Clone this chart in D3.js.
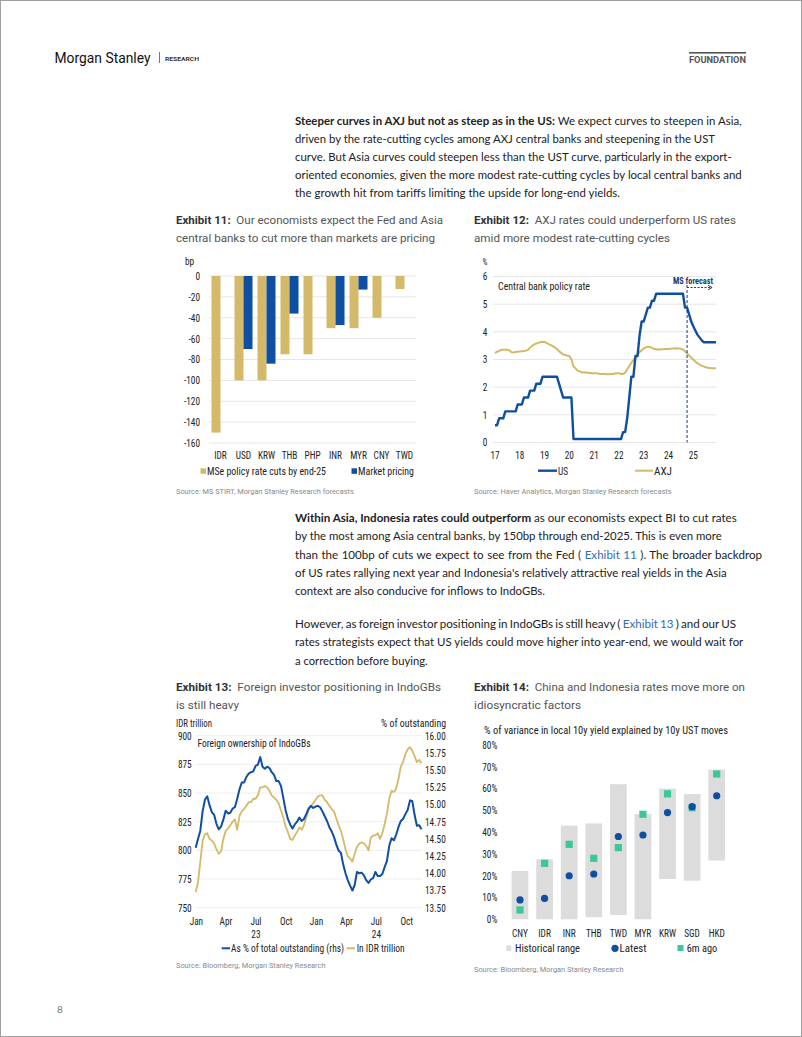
<!DOCTYPE html>
<html><head><meta charset="utf-8">
<script src="https://cdn.jsdelivr.net/npm/d3@7"></script>
<style>
html,body{margin:0;padding:0;background:#fff;}
svg{display:block;}
</style></head><body>
<svg id="page" width="802" height="1037"></svg>
<script>
// ---------------- DATA ----------------
// Exhibit 11
const cats11 = ["IDR","USD","KRW","THB","PHP","INR","MYR","CNY","TWD"];
const msCuts = [-150,-100,-100,-75,-75,-50,-50,-40,-12.5];
const mktPricing = [null,-70,-84,-36,null,-47,-13,null,null];
const ticks11 = [-160,-140,-120,-100,-80,-60,-40,-20,0];

// Exhibit 12 (monthly, Jan 2017 - Dec 2025)
const usRate = [
 0.625,0.625,0.875,0.875,0.875,1.125,1.125,1.125,1.125,1.125,1.125,1.375,
 1.375,1.375,1.625,1.625,1.625,1.875,1.875,1.875,2.125,2.125,2.125,2.375,
 2.375,2.375,2.375,2.375,2.375,2.375,2.375,2.125,1.875,1.625,1.625,1.625,
 1.625,1.625,0.125,0.125,0.125,0.125,0.125,0.125,0.125,0.125,0.125,0.125,
 0.125,0.125,0.125,0.125,0.125,0.125,0.125,0.125,0.125,0.125,0.125,0.125,
 0.125,0.125,0.375,0.375,0.875,1.625,2.375,2.375,3.125,3.125,3.875,4.375,
 4.375,4.625,4.875,4.875,5.125,5.125,5.375,5.375,5.375,5.375,5.375,5.375,
 5.375,5.375,5.375,5.375,5.375,5.375,5.375,5.375,4.875,4.875,4.625,4.375,
 4.2,4.05,3.9,3.8,3.7,3.625,3.625,3.625,3.625,3.625,3.625,3.625];
const axjRate = [
 3.23,3.28,3.31,3.35,3.35,3.35,3.35,3.33,3.26,3.25,3.27,3.28,
 3.29,3.30,3.31,3.32,3.35,3.43,3.50,3.55,3.58,3.60,3.63,3.64,
 3.63,3.60,3.56,3.52,3.48,3.43,3.38,3.30,3.24,3.18,3.16,3.14,
 3.12,3.00,2.75,2.68,2.60,2.57,2.54,2.53,2.53,2.52,2.51,2.50,
 2.50,2.50,2.49,2.48,2.48,2.48,2.47,2.47,2.48,2.48,2.49,2.50,
 2.50,2.48,2.48,2.52,2.65,2.76,2.88,2.98,3.08,3.18,3.27,3.33,
 3.40,3.44,3.46,3.46,3.42,3.39,3.36,3.37,3.36,3.37,3.38,3.38,
 3.38,3.39,3.40,3.40,3.41,3.40,3.39,3.36,3.30,3.22,3.14,3.06,
 3.00,2.93,2.87,2.82,2.78,2.75,2.72,2.70,2.69,2.68,2.68,2.68];
const yearTicks12 = [2017,2018,2019,2020,2021,2022,2023,2024,2025];
const forecastStart = 2024.75;

// Exhibit 13 (weekly from 2 Jan 2023)
const idPct = [
 14.37,14.50,14.62,14.90,15.07,15.12,14.99,14.89,14.85,14.72,14.64,14.68,14.78,14.91,14.87,14.88,
 14.94,14.96,15.08,15.22,15.32,15.32,15.40,15.45,15.47,15.48,15.56,15.58,15.69,15.55,15.52,15.55,
 15.53,15.47,15.43,15.34,15.34,15.27,15.10,14.92,14.79,14.71,14.65,14.71,14.75,14.81,14.76,14.79,
 14.86,14.94,14.98,14.95,14.97,14.98,14.96,14.90,14.83,14.76,14.67,14.61,14.53,14.42,14.33,14.30,
 14.13,14.00,13.90,13.82,13.75,13.83,14.02,14.00,14.01,13.97,13.90,13.86,13.91,13.93,14.02,13.96,
 13.96,13.99,14.09,14.18,14.40,14.51,14.48,14.56,14.67,14.76,14.79,14.86,14.92,15.06,15.05,14.85,
 14.69,14.70,14.64];
const idIdr = [
 763.6,772,790,808.6,814,815,810,808.6,806,801,797,799,810,817,819,822,
 825,827,818,830,834,836,839,842,842,845,845,848,855,855,856,855,
 852,848,846,844,841,835,829,821,816,810,809,813,816,820,818,822,
 829,835,838,841,844,847,848,848,844,842,839,836,834,828,822,817,
 810,801,795,793,790,797,803,806,807,806,804,800,811,813,813,815,
 810,815,823,832,845,852,851,854,862,873,877,884,888,890,887,882,
 877,879,876];
const idrTicks = [750,775,800,825,850,875,900];
const pctTicks = [13.5,13.75,14,14.25,14.5,14.75,15,15.25,15.5,15.75,16];

// Exhibit 14
const cats14 = ["CNY","IDR","INR","THB","TWD","MYR","KRW","SGD","HKD"];
const rangeLow = [0,0,0,0.01,0.02,0,0.185,0.177,0.27];
const rangeHigh = [0.222,0.275,0.43,0.44,0.62,0.483,0.60,0.575,0.687];
const latest = [0.089,0.096,0.20,0.208,0.38,0.387,0.49,0.517,0.567];
const sixMonthsAgo = [0.043,0.257,0.344,0.28,0.329,0.482,0.576,0.512,0.667];
const ticks14 = [0,0.1,0.2,0.3,0.4,0.5,0.6,0.7,0.8];

// ---------------- STYLE ----------------
const GOLD = "#d3b968", BLUE = "#0f4fa3", TEAL = "#3cc79b", RANGE = "#dcdcdc", GRID = "#e6e6e6";
const F_BODY = "Lato, 'Noto Sans', sans-serif";
const F_TITLE = "Roboto, 'Noto Sans', sans-serif";
const F_COND = "'Roboto Condensed','Liberation Sans Narrow','Arial Narrow',Roboto,sans-serif";
const CS = 10.8; // condensed label size

const svg = d3.select("#page");
svg.append("rect").attr("x",0.5).attr("y",0.5).attr("width",801).attr("height",1036)
  .attr("fill","#fff").attr("stroke","#a0a0a0");

function txt(g, x, y, s, o={}) {
  const fam = o.family || F_COND;
  const t = g.append("text").attr("x",x).attr("y",y)
    .attr("font-family", fam).attr("font-size", o.size || CS)
    .attr("fill", o.fill || "#222").attr("text-anchor", o.anchor || "start")
    .attr("font-weight", o.weight || "normal").text(s);
  if (fam === F_COND) t.classed("cond", true);
  if (o.len) t.attr("textLength", o.len).attr("lengthAdjust", o.adj || "spacingAndGlyphs");
  return t;
}
function styleCond(sel, anchor) {
  sel.attr("font-family",F_COND).attr("font-size",CS).attr("fill","#222").classed("cond",true);
  if (anchor) sel.attr("text-anchor", anchor);
  return sel;
}
// a line made of separately placed pieces, scaled together to a target width
function richLine(x, y, parts, opts) {
  if (opts.ws != null) {
    // single text with tspans, width tuned by word spacing only
    const t = svg.append("text").attr("x",x).attr("y",y)
      .attr("font-family", opts.family).attr("font-size", opts.size)
      .attr("fill", opts.fill || "#222").attr("word-spacing", opts.ws);
    parts.forEach(p => t.append("tspan").attr("font-weight", p.b ? "bold" : "normal")
      .attr("fill", p.link ? "#2f6db6" : (p.fill || null)).text(p.t));
    return;
  }
  const els = parts.map(p => svg.append("text").attr("x",x).attr("y",y)
    .attr("font-family", opts.family).attr("font-size", opts.size)
    .attr("font-weight", p.b ? "bold" : "normal")
    .attr("fill", p.link ? "#2f6db6" : (p.fill || opts.fill || "#222"))
    .attr("xml:space","preserve").style("white-space","pre").text(p.t));
  const widths = els.map(e => e.node().getComputedTextLength());
  const total = d3.sum(widths);
  const k = opts.len ? opts.len / total : 1;
  let cx = x;
  els.forEach((e,i) => {
    const w = widths[i] * k;
    e.attr("x", cx);
    if (opts.len) e.attr("textLength", w.toFixed(2)).attr("lengthAdjust","spacingAndGlyphs");
    cx += w;
  });
}

// ---------------- HEADER ----------------
txt(svg, 54.5, 62.5, "Morgan Stanley", {family:F_TITLE, size:15.5, fill:"#111", len:96});
svg.append("line").attr("x1",159.5).attr("x2",159.5).attr("y1",52).attr("y2",63).attr("stroke","#777");
txt(svg, 165, 60.5, "RESEARCH", {family:F_TITLE, size:6, weight:"bold", fill:"#333", len:34});
svg.append("rect").attr("x",689).attr("y",52).attr("width",57).attr("height",1.6).attr("fill","#555");
txt(svg, 689, 62.5, "FOUNDATION", {family:F_TITLE, size:9.5, weight:"bold", fill:"#555", len:57});
txt(svg, 57, 1013, "8", {family:F_BODY, size:10, fill:"#777"});

// ---------------- BODY TEXT ----------------
const BODY = {family:F_BODY, size:11.6, fill:"#222"};
const p1 = [
  [[{t:"Steeper curves in AXJ but not as steep as in the US:",b:true},{t:" We expect curves to steepen in Asia,"}],446.7],
  [[{t:"driven by the rate-cutting cycles among AXJ central banks and steepening in the UST"}],420],
  [[{t:"curve. But Asia curves could steepen less than the UST curve, particularly in the export-"}],436.7],
  [[{t:"oriented economies, given the more modest rate-cutting cycles by local central banks and"}],446.7],
  [[{t:"the growth hit from tariffs limiting the upside for long-end yields."}],325]
];
p1.forEach((l,i) => richLine(295, 125 + i*18.1, l[0], Object.assign({len:l[1]}, BODY)));
const p2 = [
  [[{t:"Within Asia, Indonesia rates could outperform",b:true},{t:" as our economists expect BI to cut rates"}],441.7],
  [[{t:"by the most among Asia central banks, by 150bp through end-2025. This is even more"}],426.7],
  [[{t:"than the 100bp of cuts we expect to see from the Fed ( "},{t:"Exhibit 11",link:true},{t:" ). The broader backdrop"}],null,0.55],
  [[{t:"of US rates rallying next year and Indonesia's relatively attractive real yields in the Asia"}],431.7],
  [[{t:"context are also conducive for inflows to IndoGBs."}],250]
];
p2.forEach((l,i) => richLine(295, 521.8 + i*18.35, l[0], Object.assign({len:l[1], ws:l[2]}, BODY)));
const p3 = [
  [[{t:"However, as foreign investor positioning in IndoGBs is still heavy ( "},{t:"Exhibit 13",link:true},{t:" ) and our US"}],null,-0.75],
  [[{t:"rates strategists expect that US yields could move higher into year-end, we would wait for"}],448.3],
  [[{t:"a correction before buying."}],132.7]
];
p3.forEach((l,i) => richLine(295, 627.8 + i*18.35, l[0], Object.assign({len:l[1], ws:l[2]}, BODY)));

// ---------------- EXHIBIT TITLES / SOURCES ----------------
const TITLE = {family:F_TITLE, size:11.8, fill:"#555"};
function exTitle(x, y, num, l1, l2, w1, w2) {
  richLine(x, y, [{t:num, b:true, fill:"#333"},{t:"  " + l1}], Object.assign({len:w1}, TITLE));
  richLine(x, y + 18.3, [{t:l2}], Object.assign({len:w2}, TITLE));
}
exTitle(176, 224, "Exhibit 11:", "Our economists expect the Fed and Asia", "central banks to cut more than markets are pricing", 267, 259);
exTitle(474, 224, "Exhibit 12:", "AXJ rates could underperform US rates", "amid more modest rate-cutting cycles", 262, 196);
exTitle(176, 691, "Exhibit 13:", "Foreign investor positioning in IndoGBs", "is still heavy", 265, 63);
exTitle(474, 691, "Exhibit 14:", "China and Indonesia rates move more on", "idiosyncratic factors", 271, 107);

const SRC = {family:F_TITLE, size:7.4, fill:"#8a8a8a"};
txt(svg, 176, 494, "Source: MS STIRT, Morgan Stanley Research forecasts", SRC);
txt(svg, 474, 494, "Source: Haver Analytics, Morgan Stanley Research forecasts", SRC);
txt(svg, 176, 968, "Source: Bloomberg, Morgan Stanley Research", SRC);
txt(svg, 474, 972, "Source: Bloomberg, Morgan Stanley Research", SRC);

// ---------------- EXHIBIT 11 ----------------
{
  const g = svg.append("g");
  const x = d3.scaleBand().domain(cats11).range([209,416]).padding(0);
  const bw = x.bandwidth();
  const sub = d3.scaleBand().domain(["ms","mkt"]).range([bw/2 - 9, bw/2 + 9]);
  const y = d3.scaleLinear().domain([-160,0]).range([443,276]);
  g.selectAll(".gr").data(ticks11).join("line")
    .attr("x1",209).attr("x2",416).attr("y1",d=>y(d)).attr("y2",d=>y(d))
    .attr("stroke",GRID).attr("stroke-width",1);
  const rows = cats11.map((c,i)=>({c, ms:msCuts[i], mkt:mktPricing[i]}));
  g.selectAll(".ms").data(rows).join("rect")
    .attr("x",d=>x(d.c)+sub("ms")).attr("width",sub.bandwidth())
    .attr("y",y(0)).attr("height",d=>y(d.ms)-y(0)).attr("fill",GOLD);
  g.selectAll(".mk").data(rows.filter(d=>d.mkt!=null)).join("rect")
    .attr("x",d=>x(d.c)+sub("mkt")).attr("width",sub.bandwidth())
    .attr("y",y(0)).attr("height",d=>y(d.mkt)-y(0)).attr("fill",BLUE);
  const ya = g.append("g").attr("transform","translate(209,0)")
    .call(d3.axisLeft(y).tickValues(ticks11).tickFormat(d=>String(d)).tickSize(0).tickPadding(9));
  ya.select(".domain").remove();
  styleCond(ya.selectAll("text"));
  const xa = g.append("g").attr("transform","translate(0,443)")
    .call(d3.axisBottom(x).tickSize(0).tickPadding(8));
  xa.select(".domain").remove();
  styleCond(xa.selectAll("text"));
  txt(g, 185, 265, "bp");
  g.append("rect").attr("x",200.5).attr("y",468.3).attr("width",5.5).attr("height",5.5).attr("fill",GOLD);
  txt(g, 207, 475, "MSe policy rate cuts by end-25", {len:119});
  g.append("rect").attr("x",351.5).attr("y",468.3).attr("width",5.5).attr("height",5.5).attr("fill",BLUE);
  txt(g, 358, 475, "Market pricing", {len:56});
}

// ---------------- EXHIBIT 12 ----------------
{
  const g = svg.append("g");
  const months = usRate.map((_,i)=>2017 + i/12);
  const x = d3.scaleLinear().domain([2017, 2017 + 107/12]).range([495,716]);
  const y = d3.scaleLinear().domain([0,6]).range([442.5,276.5]);
  const yt = [0,1,2,3,4,5,6];
  g.selectAll(".gr").data(yt).join("line")
    .attr("x1",493).attr("x2",716).attr("y1",d=>y(d)).attr("y2",d=>y(d))
    .attr("stroke",GRID);
  styleCond(g.selectAll(".yl").data(yt).join("text")
    .attr("x",485).attr("y",d=>y(d)+3.8).text(d=>d), "middle");
  styleCond(g.selectAll(".xl").data(yearTicks12).join("text")
    .attr("x",d=>x(d)).attr("y",459).text(d=>String(d-2000)), "middle");
  txt(g, 485, 265, "%", {size:9, anchor:"middle"});
  const line = d3.line().x((d,i)=>x(months[i])).y(d=>y(d));
  g.append("path").datum(axjRate).attr("d",line).attr("fill","none").attr("stroke",GOLD).attr("stroke-width",2);
  g.append("path").datum(usRate).attr("d",line).attr("fill","none").attr("stroke",BLUE).attr("stroke-width",2.4).attr("stroke-linejoin","round");
  // forecast marker
  const fx = x(forecastStart);
  g.append("line").attr("x1",fx).attr("x2",fx).attr("y1",285).attr("y2",442.5)
    .attr("stroke","#1d3a6b").attr("stroke-width",1).attr("stroke-dasharray","3,2");
  g.append("line").attr("x1",fx).attr("x2",fx+23).attr("y1",287.5).attr("y2",287.5)
    .attr("stroke","#1d3a6b").attr("stroke-width",1).attr("stroke-dasharray","2,1.5");
  g.append("path").attr("d",`M${fx+21},285.3 L${fx+25},287.5 L${fx+21},289.7`).attr("fill","none").attr("stroke","#1d3a6b");
  txt(g, 673, 283.5, "MS forecast", {size:8.2, weight:"bold", fill:"#1d3a6b", len:40});
  txt(g, 498, 289.5, "Central bank policy rate", {len:92});
  g.append("line").attr("x1",538).attr("x2",557).attr("y1",470.7).attr("y2",470.7).attr("stroke",BLUE).attr("stroke-width",2.4);
  txt(g, 558, 475, "US");
  g.append("line").attr("x1",635).attr("x2",653).attr("y1",470.7).attr("y2",470.7).attr("stroke",GOLD).attr("stroke-width",2);
  txt(g, 654, 475, "AXJ", {len:18});
}

// ---------------- EXHIBIT 13 ----------------
{
  const g = svg.append("g");
  const start = new Date(2023,0,2);
  const weeks = idPct.map((_,i)=>d3.timeDay.offset(start, 7*i));
  const x = d3.scaleTime().domain([start, weeks[weeks.length-1]]).range([195.7,421.5]);
  const yL = d3.scaleLinear().domain([750,900]).range([907.7,735.7]);
  const yR = d3.scaleLinear().domain([13.5,16]).range([907.7,735.7]);
  g.selectAll(".gr").data(idrTicks).join("line")
    .attr("x1",195).attr("x2",422).attr("y1",d=>yL(d)).attr("y2",d=>yL(d)).attr("stroke","#eeeeee");
  styleCond(g.selectAll(".yl").data(idrTicks).join("text")
    .attr("x",191.7).attr("y",d=>yL(d)+3.8).text(d=>d), "end");
  styleCond(g.selectAll(".yr").data(pctTicks).join("text")
    .attr("x",425).attr("y",d=>yR(d)+3.8).text(d=>d3.format(".2f")(d)), "start");
  const mt = [new Date(2023,0,1),new Date(2023,3,1),new Date(2023,6,1),new Date(2023,9,1),
              new Date(2024,0,1),new Date(2024,3,1),new Date(2024,6,1),new Date(2024,9,1)];
  styleCond(g.selectAll(".xl").data(mt).join("text")
    .attr("x",d=>x(d)+1).attr("y",924.5).text(d=>d3.timeFormat("%b")(d)), "middle");
  [new Date(2023,6,1), new Date(2024,6,1)].forEach(d =>
    txt(g, x(d)+1, 937.5, d3.timeFormat("%y")(d), {anchor:"middle"}));
  g.append("path").datum(idIdr).attr("d", d3.line().x((d,i)=>x(weeks[i])).y(d=>yL(d)))
    .attr("fill","none").attr("stroke",GOLD).attr("stroke-width",1.8).attr("stroke-linejoin","round");
  g.append("path").datum(idPct).attr("d", d3.line().x((d,i)=>x(weeks[i])).y(d=>yR(d)))
    .attr("fill","none").attr("stroke",BLUE).attr("stroke-width",2).attr("stroke-linejoin","round");
  txt(g, 176, 726.5, "IDR trillion", {len:36});
  txt(g, 446, 726.5, "% of outstanding", {anchor:"end", len:65});
  txt(g, 197.5, 746.5, "Foreign ownership of IndoGBs", {len:113});
  g.append("line").attr("x1",221.7).attr("x2",230).attr("y1",948.3).attr("y2",948.3).attr("stroke",BLUE).attr("stroke-width",2);
  txt(g, 231, 952.3, "As % of total outstanding (rhs)", {len:113});
  g.append("line").attr("x1",346.7).attr("x2",355).attr("y1",948.3).attr("y2",948.3).attr("stroke",GOLD).attr("stroke-width",2);
  txt(g, 356.7, 952.3, "In IDR trillion", {len:48});
}

// ---------------- EXHIBIT 14 ----------------
{
  const g = svg.append("g");
  const x = d3.scaleBand().domain(cats14).range([507.7,729]).paddingInner(0.32).paddingOuter(0.16);
  const y = d3.scaleLinear().domain([0,0.8]).range([919.3,745]);
  const rows = cats14.map((c,i)=>({c, lo:rangeLow[i], hi:rangeHigh[i], la:latest[i], sm:sixMonthsAgo[i]}));
  g.selectAll(".rg").data(rows).join("rect")
    .attr("x",d=>x(d.c)).attr("width",x.bandwidth())
    .attr("y",d=>y(d.hi)).attr("height",d=>y(d.lo)-y(d.hi)).attr("fill",RANGE);
  g.selectAll(".sm").data(rows).join("rect")
    .attr("x",d=>x(d.c)+x.bandwidth()/2-3.6).attr("y",d=>y(d.sm)-3.6)
    .attr("width",7.2).attr("height",7.2).attr("fill",TEAL);
  g.selectAll(".la").data(rows).join("circle")
    .attr("cx",d=>x(d.c)+x.bandwidth()/2).attr("cy",d=>y(d.la)).attr("r",3.6).attr("fill",BLUE);
  styleCond(g.selectAll(".yl").data(ticks14).join("text")
    .attr("x",497.3).attr("y",d=>y(d)+3.8).text(d=>d3.format(".0%")(d)), "end");
  styleCond(g.selectAll(".xl").data(cats14).join("text")
    .attr("x",d=>x(d)+x.bandwidth()/2).attr("y",936.5).text(d=>d), "middle");
  txt(g, 484, 733.5, "% of variance in local 10y yield explained by 10y UST moves", {len:244});
  g.append("rect").attr("x",506.3).attr("y",945.5).attr("width",5).attr("height",5.5).attr("fill",RANGE);
  txt(g, 515, 952.3, "Historical range", {len:65});
  g.append("circle").attr("cx",615).attr("cy",948.3).attr("r",3.6).attr("fill",BLUE);
  txt(g, 619.5, 952.3, "Latest", {len:27});
  g.append("rect").attr("x",677.5).attr("y",945).attr("width",6).attr("height",6).attr("fill",TEAL);
  txt(g, 686.7, 952.3, "6m ago", {len:30.5});
}

// emulate condensed face for labels without an explicit width
svg.selectAll("text.cond").each(function() {
  if (this.hasAttribute("textLength")) return;
  const w = this.getComputedTextLength();
  d3.select(this).attr("textLength", (w * 0.86).toFixed(2)).attr("lengthAdjust", "spacingAndGlyphs");
});
</script></body></html>
